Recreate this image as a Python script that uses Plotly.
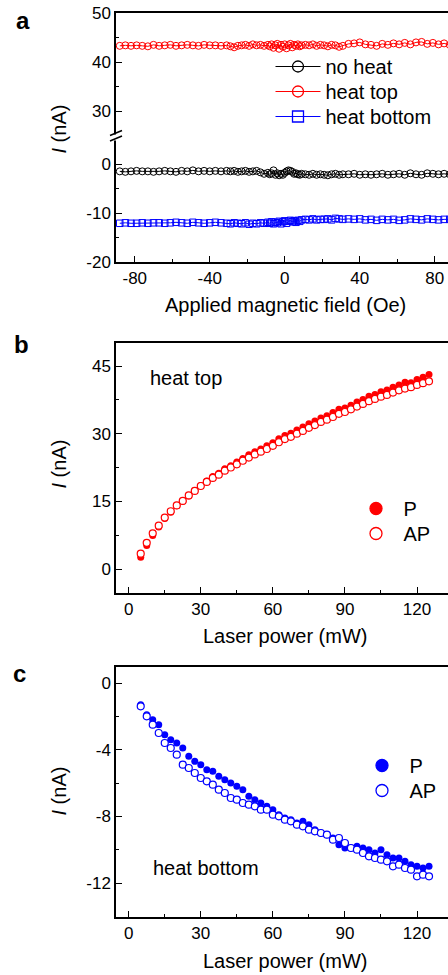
import plotly.graph_objects as go

W, H = 448, 975
FONT = "Liberation Sans, Arial, sans-serif"

def px(p):
    return p / W

def py(p):
    return 1 - p / H

# ---------------- panel a data ----------------
field_oe = [-88, -85, -82, -79, -76, -73, -70, -67, -64, -61, -58, -55, -52, -49, -46, -43, -40, -37, -34, -31,
            -29, -27, -25, -23, -21, -19, -17, -15, -13, -11,
            -9, -8, -7, -6, -5, -4, -3, -2, -1, 0, 1, 2, 3, 4, 5, 6, 7, 8, 9,
            11, 13, 15, 17, 19, 21, 23, 25, 27, 29, 31,
            34, 37, 40, 43, 46, 49, 52, 55, 58, 61, 64, 67, 70, 73, 76, 79, 82, 85, 88]

i_heat_top = [43.3, 43.4, 43.3, 43.4, 43.3, 43.2, 43.5, 43.3, 43.4, 43.5, 43.3, 43.4, 43.5, 43.4, 43.3, 43.5, 43.4, 43.4, 43.3, 43.4,
              43.2, 43.0, 43.3, 43.4, 43.5, 43.3, 43.6, 43.4, 43.5, 43.3,
              43.5, 43.2, 43.6, 42.9, 43.4, 43.7, 42.7, 43.5, 43.1, 43.6, 42.8, 43.4, 43.7, 43.0, 43.5, 43.3, 43.6, 43.2, 43.4,
              43.5, 43.4, 43.6, 43.3, 43.5, 43.4, 43.2, 43.5, 43.4, 43.1, 43.3,
              43.7, 43.8, 44.0, 43.6, 43.5, 43.3, 43.7, 43.5, 43.8, 43.6, 43.9, 43.6, 44.0, 44.1, 43.7, 43.9, 43.6, 43.8, 43.5]

i_no_heat = [-1.5, -1.6, -1.5, -1.4, -1.5, -1.5, -1.6, -1.5, -1.4, -1.5, -1.6, -1.4, -1.5, -1.3, -1.5, -1.4, -1.5, -1.4, -1.5, -1.4,
             -1.5, -1.4, -1.6, -1.5, -1.4, -1.6, -1.5, -1.4, -1.7, -2.0,
             -1.8, -2.1, -1.9, -1.3, -2.2, -1.9, -2.3, -2.0, -2.2, -1.8, -1.5, -1.3, -1.4, -1.6, -2.0, -1.9, -2.1, -2.2, -2.0,
             -2.1, -2.2, -2.0, -2.2, -2.1, -2.2, -2.3, -2.1, -2.0, -2.2, -2.1,
             -2.1, -2.0, -2.2, -2.1, -2.2, -2.1, -2.0, -2.2, -2.1, -2.0, -2.2, -1.9, -2.1, -2.2, -1.9, -2.0, -2.1, -2.0, -2.1]

i_heat_bottom = [-12.1, -12.0, -12.1, -12.1, -12.0, -12.1, -12.0, -12.0, -12.1, -12.0, -11.9, -12.0, -12.1, -11.9, -12.0, -12.1, -12.0, -11.9, -12.0, -12.1,
                 -12.2, -12.0, -12.1, -12.2, -12.0, -12.3, -12.1, -12.2, -12.0, -12.1,
                 -11.9, -12.1, -11.8, -12.2, -11.9, -12.0, -11.7, -12.2, -11.8, -11.6, -12.1, -11.7, -11.5, -11.8, -11.6, -11.9, -11.5, -11.7, -11.4,
                 -11.3, -11.4, -11.2, -11.4, -11.3, -11.3, -11.2, -11.4, -11.1, -11.2, -11.3,
                 -11.2, -11.3, -11.2, -11.4, -11.3, -11.5, -11.3, -11.4, -11.3, -11.5, -11.4, -11.2, -11.3, -11.4, -11.2, -11.3, -11.4, -11.3, -11.3]

# ---------------- panels b, c data ----------------
laser_mw = [5, 7.5, 10, 12.5, 15, 17.5, 20, 22.5, 25, 27.5, 30, 32.5, 35, 37.5, 40, 42.5, 45, 47.5, 50, 52.5,
            55, 57.5, 60, 62.5, 65, 67.5, 70, 72.5, 75, 77.5, 80, 82.5, 85, 87.5, 90, 92.5, 95, 97.5, 100, 102.5,
            105, 107.5, 110, 112.5, 115, 117.5, 120, 122.5, 125]

top_P = [2.6, 5.2, 7.4, 9.3, 11.2, 12.6, 14.0, 15.0, 16.2, 17.4, 18.5, 19.5, 20.5, 21.2, 22.2, 22.9, 23.7, 24.5, 25.3, 26.0,
         26.6, 27.3, 28.0, 28.9, 29.6, 30.1, 30.8, 31.5, 32.2, 32.8, 33.5, 34.0, 34.7, 35.4, 35.7, 36.3, 37.0, 37.6, 38.3, 38.7,
         39.3, 39.7, 40.3, 40.8, 41.4, 41.3, 42.0, 42.5, 43.1]
top_AP = [3.4, 5.8, 7.9, 9.6, 11.4, 12.8, 14.1, 15.1, 16.3, 17.3, 18.4, 19.3, 20.2, 20.9, 21.8, 22.5, 23.2, 24.0, 24.7, 25.4,
          26.0, 26.6, 27.3, 28.1, 28.8, 29.3, 30.0, 30.6, 31.3, 31.9, 32.6, 33.1, 33.7, 34.4, 34.8, 35.4, 36.0, 36.6, 37.2, 37.7,
          38.2, 38.6, 39.1, 39.6, 40.0, 40.3, 40.8, 41.2, 41.6]

bot_P = [-1.3, -1.9, -2.2, -2.5, -3.1, -3.4, -3.6, -3.9, -4.4, -4.7, -4.9, -5.2, -5.3, -5.6, -5.8, -6.0, -6.2, -6.4, -6.8, -7.0,
         -7.2, -7.4, -7.6, -7.9, -8.1, -8.2, -8.4, -8.3, -8.5, -8.8, -9.0, -9.1, -9.3, -9.7, -9.9, -9.9, -9.8, -9.9, -10.0, -10.2,
         -10.0, -10.3, -10.5, -10.5, -10.7, -10.9, -11.0, -11.1, -11.0]
bot_AP = [-1.4, -2.0, -2.5, -3.0, -3.6, -3.9, -4.3, -4.9, -5.1, -5.4, -5.7, -5.9, -6.1, -6.4, -6.6, -6.9, -7.0, -7.2, -7.3, -7.4,
          -7.6, -7.6, -7.9, -8.0, -8.2, -8.3, -8.5, -8.6, -8.8, -8.9, -9.0, -9.1, -9.4, -9.3, -9.6, -9.9, -10.0, -10.2, -10.4, -10.5,
          -10.6, -10.7, -11.0, -10.9, -11.1, -11.2, -11.6, -11.5, -11.6]

# tick labels (hyphen minus as in the reference)
a_x_ticks = [-80, -40, 0, 40, 80]
a_x_labels = ["-80", "-40", "0", "40", "80"]
a_ylow_ticks = [-20, -10, 0]
a_ylow_labels = ["-20", "-10", "0"]
a_yhigh_ticks = [30, 40, 50]
a_yhigh_labels = ["30", "40", "50"]
p_x_ticks = [0, 30, 60, 90, 120]
p_x_labels = ["0", "30", "60", "90", "120"]
b_y_ticks = [0, 15, 30, 45]
b_y_labels = ["0", "15", "30", "45"]
c_y_ticks = [-12, -8, -4, 0]
c_y_labels = ["-12", "-8", "-4", "0"]

RED, BLUE, BLACK = "#FF0000", "#0000FF", "#000000"

fig = go.Figure()

# panel a traces
fig.add_trace(go.Scatter(x=field_oe, y=i_no_heat, xaxis="x", yaxis="y", mode="lines+markers",
                         line=dict(color=BLACK, width=1),
                         marker=dict(symbol="circle-open", size=7, color=BLACK, line=dict(width=1)),
                         showlegend=False))
fig.add_trace(go.Scatter(x=field_oe, y=i_heat_bottom, xaxis="x", yaxis="y", mode="lines+markers",
                         line=dict(color=BLUE, width=1),
                         marker=dict(symbol="square-open", size=6.5, color=BLUE, line=dict(width=1)),
                         showlegend=False))
fig.add_trace(go.Scatter(x=field_oe, y=i_heat_top, xaxis="x2", yaxis="y2", mode="lines+markers",
                         line=dict(color=RED, width=1),
                         marker=dict(symbol="circle-open", size=7, color=RED, line=dict(width=1)),
                         showlegend=False))

# panel b
fig.add_trace(go.Scatter(x=laser_mw, y=top_P, xaxis="x3", yaxis="y3", mode="markers",
                         marker=dict(symbol="circle", size=7, color=RED, line=dict(width=0)),
                         showlegend=False))
fig.add_trace(go.Scatter(x=laser_mw, y=top_AP, xaxis="x3", yaxis="y3", mode="markers",
                         marker=dict(symbol="circle", size=7, color="white", line=dict(width=1.2, color=RED)),
                         showlegend=False))
# panel c
fig.add_trace(go.Scatter(x=laser_mw, y=bot_P, xaxis="x4", yaxis="y4", mode="markers",
                         marker=dict(symbol="circle", size=7, color=BLUE, line=dict(width=0)),
                         showlegend=False))
fig.add_trace(go.Scatter(x=laser_mw, y=bot_AP, xaxis="x4", yaxis="y4", mode="markers",
                         marker=dict(symbol="circle", size=7, color="white", line=dict(width=1.2, color=BLUE)),
                         showlegend=False))

# legend entries: one legend per entry so each can be placed exactly
LEG_DY = 20      # legend top -> row centre
LEG_DX = 26.5    # legend left -> marker centre (itemwidth 45)
entries = [
    # name, colour, symbol, fill, mode, axes, marker-centre x, row-centre y
    ("no heat", BLACK, "circle-open", None, "lines+markers", ("x", "y"), 297, 67),
    ("heat top", RED, "circle-open", None, "lines+markers", ("x", "y"), 297, 92),
    ("heat bottom", BLUE, "square-open", None, "lines+markers", ("x", "y"), 297, 117),
    ("P", RED, "circle", RED, "markers", ("x3", "y3"), 375, 509),
    ("AP", RED, "circle", "white", "markers", ("x3", "y3"), 375, 534),
    ("P", BLUE, "circle", BLUE, "markers", ("x4", "y4"), 381, 766),
    ("AP", BLUE, "circle", "white", "markers", ("x4", "y4"), 381, 791),
]
legend_layout = {}
for k, (name, col, sym, fill, mode, (xa, ya), mx, my) in enumerate(entries):
    lid = "legend" if k == 0 else "legend%d" % (k + 1)
    mk = dict(symbol=sym, size=12 if mode == "markers" else 11, color=fill if fill else col,
              line=dict(width=1.3, color=col))
    fig.add_trace(go.Scatter(x=[None], y=[None], xaxis=xa, yaxis=ya, mode=mode, name=name,
                             line=dict(color=col, width=1), marker=mk, legend=lid, showlegend=True))
    legend_layout[lid] = dict(x=px(mx - LEG_DX), y=py(my - LEG_DY), xanchor="left", yanchor="top",
                              bgcolor="rgba(0,0,0,0)", itemwidth=45,
                              font=dict(family=FONT, size=20, color="black"))

tickfont = dict(family=FONT, size=17, color="black")
common = dict(showline=True, linecolor="black", linewidth=1.5, showgrid=False, zeroline=False,
              ticks="inside", ticklen=6, tickwidth=1.2, tickcolor="black", tickfont=tickfont,
              automargin=False, tickmode="array", ticklabeloverflow="allow")

xdom = [px(116), 1.0]

def minor(d):
    return dict(ticks="inside", ticklen=3.5, dtick=d, tick0=0, tickcolor="black", tickwidth=1.2, showgrid=False)

def xax(rng, tv, tt, mdtick, anchor, **kw):
    d = dict(common)
    d.update(range=rng, tickvals=tv, ticktext=tt, anchor=anchor, domain=xdom,
             minor=minor(mdtick), ticklabelstandoff=0)
    d.update(kw)
    return d

def yax(rng, dom, tv, tt, mdtick, anchor, **kw):
    d = dict(common)
    d.update(range=rng, domain=dom, tickvals=tv, ticktext=tt, anchor=anchor, mirror=False,
             minor=minor(mdtick), ticklabelstandoff=0)
    d.update(kw)
    return d

a_range = [-90, 87.07]
b_range = [-5.29, 132.9]

fig.update_layout(
    template="none",
    width=W, height=H, margin=dict(l=0, r=0, t=0, b=0, autoexpand=False),
    paper_bgcolor="white", plot_bgcolor="white",
    font=dict(family=FONT, color="black"),
    xaxis=xax(a_range, a_x_ticks, a_x_labels, 20, "y"),
    yaxis=yax([-20, 5], [py(262), py(139.5)], a_ylow_ticks, a_ylow_labels, 5, "x"),
    xaxis2=dict(range=a_range, domain=xdom, anchor="y2", side="top", showline=True, linecolor="black",
                linewidth=1.5, showticklabels=False, ticks="", showgrid=False, zeroline=False, matches="x",
                automargin=False),
    yaxis2=yax([25, 50], [py(135.5), py(13)], a_yhigh_ticks, a_yhigh_labels, 5, "x2"),
    xaxis3=xax(b_range, p_x_ticks, p_x_labels, 15, "y3", mirror=True),
    yaxis3=yax([-5.32, 50.1], [py(593), py(343)], b_y_ticks, b_y_labels, 7.5, "x3"),
    xaxis4=xax(b_range, p_x_ticks, p_x_labels, 15, "y4", mirror=True),
    yaxis4=yax([-14.04, 0.96], [py(917), py(667)], c_y_ticks, c_y_labels, 2, "x4"),
    **legend_layout,
)

ann = []
def text(x, y, s, size=20, bold=False, xanchor="center", angle=0):
    ann.append(dict(x=px(x), y=py(y), xref="paper", yref="paper", text=("<b>%s</b>" % s) if bold else s,
                    showarrow=False, xanchor=xanchor, yanchor="middle", textangle=angle,
                    font=dict(family=FONT, size=size, color="black")))

text(22.5, 20.5, "a", 24, True)
text(21.7, 344, "b", 24, True)
text(19.7, 673.5, "c", 24, True)
text(285, 305, "Applied magnetic field (Oe)")
text(285, 636, "Laser power (mW)")
text(285, 961, "Laser power (mW)")
for yc in (129, 464, 791):
    text(58.5, yc, "<i>I</i> (nA)", angle=-90)
text(148, 378, "heat top", xanchor="left")
text(151, 868, "heat bottom", xanchor="left")
fig.update_layout(annotations=ann)

# axis-break mark on panel a
shapes = [
    dict(type="rect", xref="paper", yref="paper", x0=px(110), x1=px(123), y0=py(140.5), y1=py(134.5),
         fillcolor="white", line=dict(width=0), layer="above"),
    dict(type="line", xref="paper", yref="paper", x0=px(110), y0=py(135.5), x1=px(122), y1=py(130.5),
         line=dict(color="black", width=1.5), layer="above"),
    dict(type="line", xref="paper", yref="paper", x0=px(110), y0=py(141), x1=px(122), y1=py(136),
         line=dict(color="black", width=1.5), layer="above"),
]
fig.update_layout(shapes=shapes)

# drop the browser's default 8px body margin so the figure sits at the page corner
fig.write_html("out.html", config={"displayModeBar": False},
               post_script="document.body.style.margin='0';document.body.style.overflow='hidden';")
